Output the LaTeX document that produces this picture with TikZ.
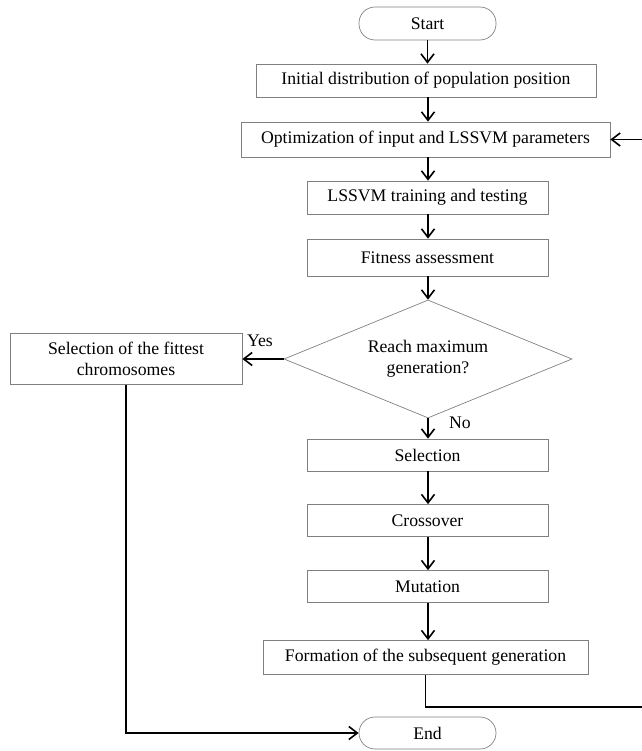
\documentclass[tikz,border=0pt]{standalone}
\usepackage{fontspec}
\setmainfont{Liberation Serif}
\usetikzlibrary{arrows.meta,shapes.geometric}
\begin{document}
\begin{tikzpicture}[x=1pt,y=-1pt,
  txt/.style={font=\fontsize{17.7}{21}\selectfont},
  box/.style={txt, draw=black!50, line width=0.7pt, minimum height=33pt, inner sep=0pt, align=center},
  term/.style={box, rounded corners=16pt},
  arr/.style={draw=black, line width=1.6pt, -{Straight Barb[length=8.5pt,width=13pt,line width=1.6pt]}},
  lbl/.style={txt, inner sep=0pt}]
\useasboundingbox (0,0) rectangle (641,751);
\node[term, minimum width=137pt] (start) at (427.5,23.5) {Start};
\node[box, minimum width=340pt] (init) at (426,80.5) {Initial distribution of population position};
\node[box, minimum width=369pt, minimum height=35pt] (opt) at (425.5,139.5) {Optimization of input and LSSVM parameters};
\node[box, minimum width=241pt] (lssvm) at (427.5,197.5) {LSSVM training and testing};
\node[box, minimum width=241pt, minimum height=37pt] (fit) at (427.5,257.5) {Fitness assessment};
\node[diamond, txt, draw=black!50, line width=0.7pt, minimum width=288pt, minimum height=118pt, inner sep=0pt, aspect=2.4, align=center] (dec) at (428,359) {Reach maximum\\generation?};
\node[box, minimum width=232pt, minimum height=51pt] (fittest) at (126,359) {Selection of the fittest\\chromosomes};
\node[box, minimum width=241pt, minimum height=32pt] (sel) at (427.5,455) {Selection};
\node[box, minimum width=241pt, minimum height=32pt] (cross) at (427.5,520.5) {Crossover};
\node[box, minimum width=241pt, minimum height=32pt] (mut) at (427.5,586.5) {Mutation};
\node[box, minimum width=325pt, minimum height=34pt] (form) at (425.5,657.5) {Formation of the subsequent generation};
\node[term, minimum width=137pt, minimum height=32pt] (end) at (427.5,733) {End};
\node[lbl] (yes) at (260,341) {Yes};
\node[lbl] (no) at (460,423) {No};
\coordinate (fbA) at (650,707);
\draw[arr] (start.south) -- (start.south |- init.north);
\draw[arr] (init.south -| dec.north) -- (dec.north |- opt.north);
\draw[arr] (opt.south -| dec.north) -- (dec.north |- lssvm.north);
\draw[arr] (lssvm.south -| dec.north) -- (dec.north |- fit.north);
\draw[arr] (fit.south -| dec.north) -- (dec.north);
\draw[arr] (dec.west) -- (fittest.east);
\draw[arr] (dec.south) -- (dec.south |- sel.north);
\draw[arr] (sel.south -| dec.south) -- (dec.south |- cross.north);
\draw[arr] (cross.south -| dec.south) -- (dec.south |- mut.north);
\draw[arr] (mut.south -| dec.south) -- (dec.south |- form.north);
\draw[arr] (form.south) |- (fbA) |- (opt.east);
\draw[arr] (fittest.south) |- (end.west);
\end{tikzpicture}
\end{document}
